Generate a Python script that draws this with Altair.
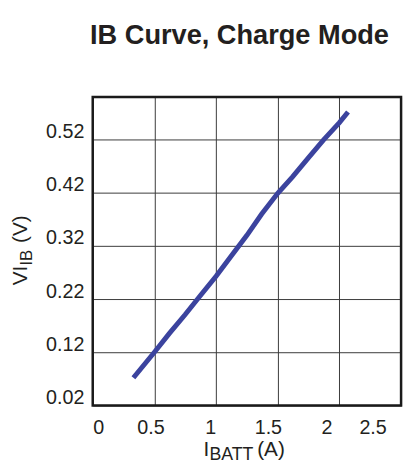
import altair as alt
import pandas as pd

# ---- data ----
ibatt = [0.33, 0.50, 0.62, 0.75, 0.87, 1.00, 1.12, 1.25, 1.37, 1.50, 1.62, 1.75, 1.87, 2.00, 2.07]
vib = [0.072, 0.120, 0.155, 0.191, 0.226, 0.263, 0.300, 0.340, 0.380, 0.419, 0.450, 0.486, 0.519, 0.552, 0.572]
x_ticks = [0, 0.5, 1, 1.5, 2, 2.5]
y_ticks = [0.02, 0.12, 0.22, 0.32, 0.42, 0.52]
title_text = ["IB Curve, Charge Mode"]
x_title_parts = ["I", "BATT", "(A)"]
y_title_parts = ["VI", "IB", "(V)"]

FONT = "Liberation Sans"
TEXT_COLOR = "#231f20"
LINE_COLOR = "#3b439e"
W, H = 313, 313

df = pd.DataFrame({"ibatt": ibatt, "vib": vib})

# small leftward nudge of x tick labels, as in the reference
x_label_shift = {
    "condition": [
        {"test": "datum.value == 0.5", "value": -4},
        {"test": "datum.value == 1", "value": -6},
        {"test": "datum.value == 1.5", "value": -10},
        {"test": "datum.value == 2", "value": -13},
        {"test": "datum.value == 2.5", "value": -15},
    ],
    "value": 0,
}

x_enc = alt.X(
    "ibatt:Q",
    scale=alt.Scale(domain=[0, 2.5], nice=False, zero=False),
    axis=alt.Axis(
        values=x_ticks, format="~g", title=None, domain=False, ticks=False, tickSize=0,
        labelPadding=12, labelFontSize=20, labelFont=FONT, labelColor=TEXT_COLOR,
        grid=True, gridColor="#3a3a3a", gridWidth=1, labelOffset=x_label_shift,
    ),
)
y_enc = alt.Y(
    "vib:Q",
    scale=alt.Scale(domain=[0.02, 0.6], nice=False, zero=False),
    axis=alt.Axis(
        values=y_ticks, format=".2f", title=None, domain=False, ticks=False, tickSize=0,
        labelPadding=9, labelFontSize=20, labelFont=FONT, labelColor=TEXT_COLOR,
        labelOffset=-8, grid=True, gridColor="#3a3a3a", gridWidth=1,
    ),
)

line = alt.Chart(df).mark_line(color=LINE_COLOR, strokeWidth=5, strokeCap="butt").encode(
    x=x_enc, y=y_enc
)

frame = alt.Chart(pd.DataFrame({"f": [0]})).mark_rect(
    fill=None, stroke="#1a1a1a", strokeWidth=2.5
).encode(x=alt.value(0), x2=alt.value(W), y=alt.value(0), y2=alt.value(H))


def label(text, x, y, size, angle=0, bold=False, align="left"):
    d = pd.DataFrame({"t": [text]})
    kw = dict(font=FONT, fontSize=size, color=TEXT_COLOR, align=align, baseline="alphabetic")
    if angle:
        kw["angle"] = angle
    if bold:
        kw["fontWeight"] = "bold"
    return alt.Chart(d).mark_text(**kw).encode(
        text="t:N", x=alt.value(x), y=alt.value(y)
    )


title = label(title_text[0], 149, -54, 27.6, bold=True, align="center")

# x-axis title with subscript
xt1 = label(x_title_parts[0], 112.5, 364, 21)
xt2 = label(x_title_parts[1], 118.5, 368, 18)
xt3 = label(x_title_parts[2], 167, 364, 21)

# y-axis title (rotated) with subscript
yt1 = label(y_title_parts[0], -67, 191, 21, angle=270)
yt2 = label(y_title_parts[1], -62, 171, 17, angle=270)
yt3 = label(y_title_parts[2], -67, 148, 21, angle=270)

chart = (
    alt.layer(line, frame, title, xt1, xt2, xt3, yt1, yt2, yt3)
    .properties(
        width=W,
        height=H,
        autosize=alt.AutoSizeParams(type="none"),
        padding={"left": 86, "top": 87, "right": 4, "bottom": 55},
    )
    .configure_view(stroke=None)
    .configure(background="white")
)

chart.save("out.html", embed_options={"renderer": "svg", "actions": False})
